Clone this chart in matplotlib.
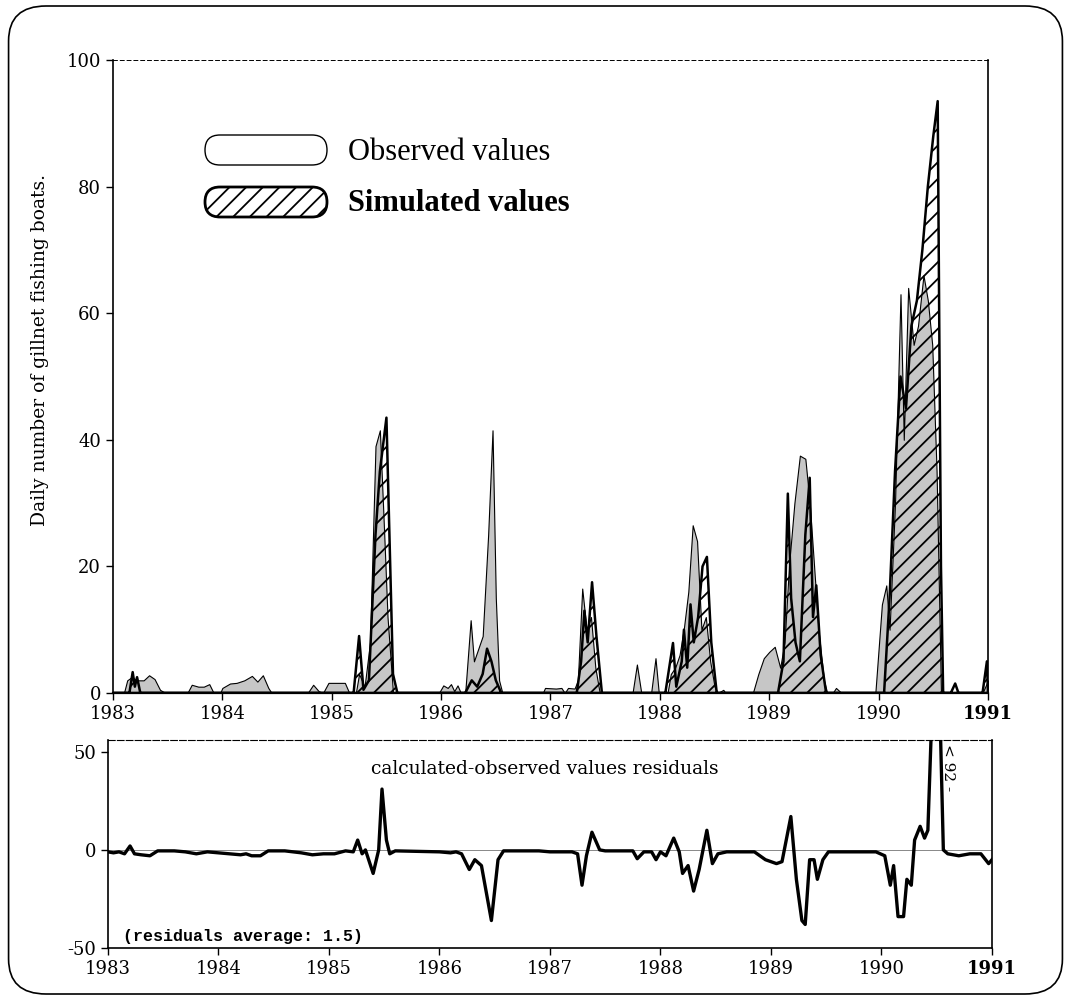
import matplotlib
matplotlib.use("Agg")
import matplotlib.pyplot as plt
from matplotlib.patches import FancyBboxPatch
from matplotlib.transforms import IdentityTransform

# observed daily number of boats (decimal year, value)
obs_t = [1983.00, 1983.10, 1983.13, 1983.17, 1983.22, 1983.28, 1983.33, 1983.38, 1983.43, 1983.48,
         1983.68, 1983.72, 1983.78, 1983.83, 1983.88, 1983.92, 1983.98, 1984.00, 1984.07, 1984.13,
         1984.20, 1984.27, 1984.32, 1984.37, 1984.42, 1984.45, 1984.78, 1984.83, 1984.88, 1984.92,
         1984.97, 1985.05, 1985.12, 1985.16, 1985.22, 1985.25, 1985.30, 1985.35, 1985.40, 1985.44,
         1985.48, 1985.51, 1985.56, 1985.98, 1986.02, 1986.06, 1986.09, 1986.12, 1986.15, 1986.18,
         1986.22, 1986.27, 1986.30, 1986.34, 1986.38, 1986.43, 1986.47, 1986.50, 1986.53, 1986.56,
         1986.93, 1986.95, 1987.05, 1987.10, 1987.13, 1987.16, 1987.22, 1987.25, 1987.29, 1987.33,
         1987.37, 1987.41, 1987.45, 1987.75, 1987.79, 1987.83, 1987.92, 1987.96, 1987.99, 1988.07,
         1988.10, 1988.14, 1988.18, 1988.22, 1988.26, 1988.30, 1988.34, 1988.38, 1988.42, 1988.46,
         1988.50, 1988.53, 1988.58, 1988.60, 1988.85, 1988.90, 1988.95, 1989.00, 1989.05, 1989.10,
         1989.14, 1989.18, 1989.23, 1989.28, 1989.33, 1989.37, 1989.41, 1989.45, 1989.50, 1989.53,
         1989.58, 1989.61, 1989.66, 1989.97, 1990.03, 1990.07, 1990.10, 1990.15, 1990.20, 1990.23,
         1990.27, 1990.32, 1990.36, 1990.41, 1990.45, 1990.49, 1990.53, 1990.57, 1990.95, 1991.00]
obs_v = [0, 0, 2.0, 2.5, 2.0, 2.0, 2.8, 2.2, 0.5, 0,
         0, 1.3, 1.0, 1.0, 1.4, 0, 0, 0.8, 1.5, 1.6,
         2.0, 2.7, 1.8, 2.8, 0.8, 0, 0, 1.3, 0.3, 0,
         1.6, 1.6, 1.6, 0, 0, 3, 1, 8, 39, 41.5,
         25, 12, 0, 0, 1.2, 0.8, 1.4, 0.3, 1.2, 0,
         0, 11.5, 5, 7, 9, 25, 41.5, 15, 2, 0,
         0, 0.8, 0.7, 0.8, 0, 0.8, 0.7, 2, 16.5, 10,
         12, 4, 0, 0, 4.5, 0, 0, 5.5, 0, 0,
         3, 4, 6, 10.3, 16, 26.5, 24, 10, 12, 5,
         1, 0, 0.5, 0, 0, 3, 5.5, 6.5, 7.3, 4,
         8, 20, 30, 37.5, 37, 30, 20, 10, 2, 0,
         0, 0.8, 0, 0, 14, 17, 10, 30, 63, 40,
         64, 55, 58, 66, 62, 55, 35, 0, 0, 2]

# simulated daily number of boats
sim_t = [1983.00, 1983.15, 1983.18, 1983.20, 1983.22, 1983.25, 1985.20, 1985.25, 1985.29, 1985.34,
         1985.40, 1985.44, 1985.50, 1985.56, 1985.60, 1986.22, 1986.28, 1986.33, 1986.38, 1986.42,
         1986.46, 1986.50, 1986.55, 1987.24, 1987.28, 1987.31, 1987.34, 1987.38, 1987.42, 1987.47,
         1988.05, 1988.12, 1988.15, 1988.20, 1988.22, 1988.25, 1988.28, 1988.31, 1988.35, 1988.39,
         1988.43, 1988.47, 1988.52, 1989.08, 1989.13, 1989.17, 1989.20, 1989.24, 1989.28, 1989.33,
         1989.37, 1989.40, 1989.43, 1989.47, 1989.52, 1990.05, 1990.10, 1990.15, 1990.20, 1990.25,
         1990.30, 1990.35, 1990.40, 1990.45, 1990.50, 1990.54, 1990.57, 1990.59, 1990.66, 1990.70,
         1990.73, 1990.95, 1990.99, 1991.00]
sim_v = [0, 0, 3.3, 1, 2.5, 0, 0, 9, 0.5, 2,
         25, 35, 43.5, 3, 0, 0, 2, 1, 3, 7,
         5, 2, 0, 0, 5, 13, 8, 17.5, 9, 0,
         0, 7.9, 1, 5, 10, 4, 14, 8, 12, 20,
         21.5, 8, 0, 0, 5, 31.5, 15, 8, 5, 25,
         34, 12, 17, 6, 0, 0, 15, 35, 50, 45,
         58, 62, 70, 80, 88, 93.5, 20, 0, 0, 1.5,
         0, 0, 5, 0]

# residuals calculated - observed
res_t = [1983.00, 1983.05, 1983.10, 1983.15, 1983.20, 1983.24, 1983.30, 1983.38, 1983.45, 1983.60,
         1983.70, 1983.80, 1983.90, 1984.00, 1984.10, 1984.20, 1984.25, 1984.30, 1984.38, 1984.45,
         1984.60, 1984.75, 1984.85, 1984.95, 1985.05, 1985.15, 1985.22, 1985.26, 1985.30, 1985.33,
         1985.40, 1985.45, 1985.48, 1985.52, 1985.55, 1985.60, 1986.00, 1986.10, 1986.15, 1986.20,
         1986.27, 1986.32, 1986.38, 1986.47, 1986.53, 1986.58, 1986.90, 1987.00, 1987.20, 1987.25,
         1987.29, 1987.33, 1987.38, 1987.45, 1987.50, 1987.75, 1987.79, 1987.85, 1987.92, 1987.96,
         1988.00, 1988.05, 1988.12, 1988.17, 1988.20, 1988.25, 1988.30, 1988.35, 1988.42, 1988.47,
         1988.52, 1988.60, 1988.85, 1988.95, 1989.05, 1989.10, 1989.18, 1989.23, 1989.28, 1989.31,
         1989.35, 1989.39, 1989.42, 1989.47, 1989.52, 1989.60, 1989.95, 1990.03, 1990.08, 1990.11,
         1990.15, 1990.20, 1990.23, 1990.27, 1990.30, 1990.35, 1990.39, 1990.42, 1990.47, 1990.52,
         1990.56, 1990.60, 1990.70, 1990.80, 1990.90, 1990.97, 1991.00]
res_v = [-1, -1.5, -1, -2, 2, -2, -2.5, -3, -0.5, -0.5,
         -1, -2, -1, -1.5, -2, -2.5, -2, -3, -3, -0.5,
         -0.5, -1.5, -2.5, -2, -2, -0.5, -1, 5, -2, 0,
         -12, 0, 31, 5, -2, -0.5, -1, -1.5, -1, -2,
         -10, -5, -8, -36, -5, -0.5, -0.5, -1, -1, -2,
         -18, -3, 9, 0, -0.5, -0.5, -4.5, -1, -1, -5,
         -1, -3, 6, -1, -12, -8, -21, -10, 10, -7,
         -2, -1, -1, -5, -7, -6, 17, -15, -36, -38,
         -5, -5, -15, -5, -1, -1, -1, -3, -18, -8,
         -34, -34, -15, -18, 5, 12, 6, 10, 92, 92,
         0, -2, -3, -2, -2, -7, -5]

years = [1983, 1984, 1985, 1986, 1987, 1988, 1989, 1990, 1991]
year_labels = [str(y) for y in years]

plt.rcParams["font.family"] = "DejaVu Serif"
plt.rcParams["axes.unicode_minus"] = False
plt.rcParams["hatch.linewidth"] = 1.3

fig = plt.figure(figsize=(10.71, 10), dpi=100)

# rounded page frame
frame = FancyBboxPatch((0.008, 0.006), 0.984, 0.988, boxstyle="round,pad=0,rounding_size=0.035",
                       transform=fig.transFigure, fill=False, ec="black", lw=1.2)
fig.patches.append(frame)

# --- main panel ---
ax = fig.add_axes([0.1055, 0.307, 0.817, 0.633])
ax.fill_between(obs_t, obs_v, 0, facecolor="#c6c6c6", edgecolor="black", lw=0.8, zorder=2)
ax.fill_between(sim_t, sim_v, 0, facecolor="none", hatch="//", edgecolor="black", lw=1.8, zorder=3)
ax.set_xlim(1983, 1991)
ax.set_ylim(0, 100)
ax.set_xticks(years)
ax.set_xticklabels(year_labels)
ax.set_yticks([0, 20, 40, 60, 80, 100])
ax.tick_params(labelsize=13, length=5, width=1, direction="out")
ax.get_xticklabels()[-1].set_fontweight("bold")
ax.spines["top"].set_linestyle((0, (4, 3)))
ax.spines["top"].set_linewidth(0.7)
ax.spines["bottom"].set_linewidth(1.6)
ax.spines["left"].set_linewidth(1.2)
ax.spines["right"].set_linewidth(1.2)

fig.text(0.037, 0.65, "Daily number of gillnet fishing boats.", rotation=90,
         ha="center", va="center", fontsize=13.5)

# legend drawn as capsules (pixel coordinates)
obs_box = FancyBboxPatch((205, 1000 - 165), 122, 30, boxstyle="round,pad=0,rounding_size=15",
                         transform=IdentityTransform(), facecolor="white", ec="black", lw=1.0)
sim_box = FancyBboxPatch((205, 1000 - 217), 122, 30, boxstyle="round,pad=0,rounding_size=15",
                         transform=IdentityTransform(), facecolor="white", ec="black", lw=2.0,
                         hatch="//")
fig.patches.extend([obs_box, sim_box])
fig.text(348 / 1071, 1 - 152 / 1000, "Observed values", family="Liberation Serif",
         fontsize=22, ha="left", va="center")
fig.text(348 / 1071, 1 - 203 / 1000, "Simulated values", family="Liberation Serif",
         fontsize=22, fontweight="bold", ha="left", va="center")

# --- residual panel ---
axr = fig.add_axes([0.1008, 0.052, 0.8254, 0.208])
axr.axhline(0, color="#888888", lw=0.7, zorder=1)
axr.plot(res_t, res_v, color="black", lw=2.4, zorder=3)
axr.set_xlim(1983, 1991)
axr.set_ylim(-50, 56)
axr.set_xticks(years)
axr.set_xticklabels(year_labels)
axr.set_yticks([-50, 0, 50])
axr.tick_params(labelsize=13, length=5, width=1, direction="out")
axr.get_xticklabels()[-1].set_fontweight("bold")
axr.spines["top"].set_linestyle((0, (6, 2)))
for s in ["bottom", "left", "right"]:
    axr.spines[s].set_linewidth(1.2)

axr.text(0.494, 0.86, "calculated-observed values residuals", transform=axr.transAxes,
         ha="center", va="center", fontsize=13.5)
axr.text(0.017, 0.055, "(residuals average: 1.5)", transform=axr.transAxes,
         ha="left", va="center", fontsize=12, family="Liberation Mono", fontweight="bold")
axr.text(1990.6, 42, "< 92 -", rotation=-90, ha="center", va="center", fontsize=11)

fig.savefig("out.png", dpi=100)
